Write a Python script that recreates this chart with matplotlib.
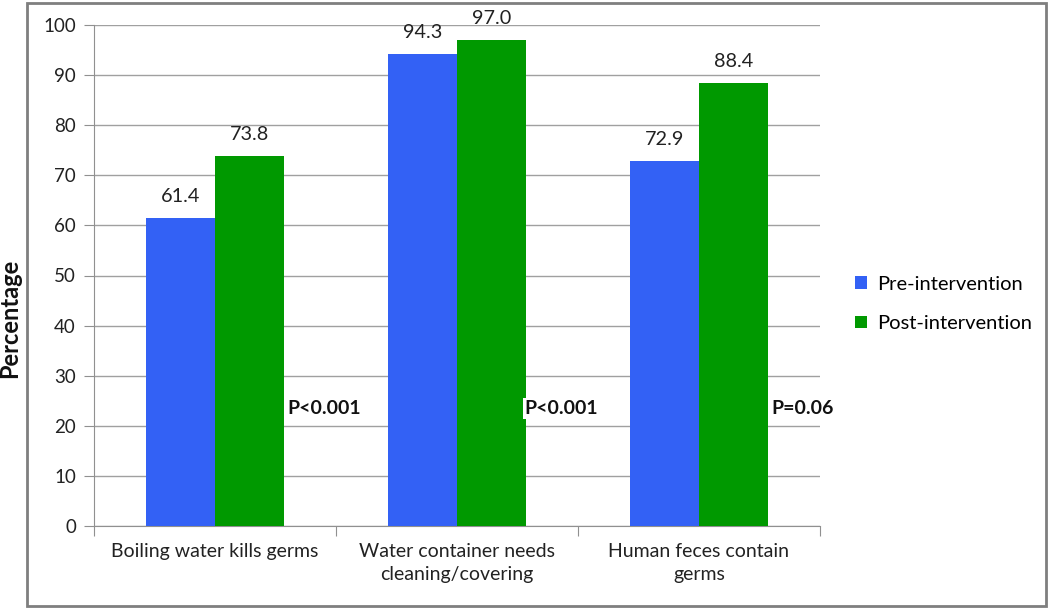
import matplotlib
matplotlib.use("Agg")
import matplotlib.pyplot as plt
from matplotlib.patches import Rectangle
import numpy as np

categories = ["Boiling water kills germs", "Water container needs\ncleaning/covering", "Human feces contain\ngerms"]
pre = [61.4, 94.3, 72.9]
post = [73.8, 97.0, 88.4]
p_labels = ["P<0.001", "P<0.001", "P=0.06"]
p_y = [23.4, 23.4, 23.4]
series_names = ["Pre-intervention", "Post-intervention"]

plt.rcParams['font.family'] = ['Lato', 'DejaVu Sans']

fig = plt.figure(figsize=(10.5, 6.09), dpi=100)
ax = fig.add_axes([94/1050, 1-526/609, (820-94)/1050, (526-25)/609])

x = np.arange(len(categories))
w = 0.285
b1 = ax.bar(x - w/2, pre, w, color="#3361F5", label=series_names[0], zorder=3)
b2 = ax.bar(x + w/2, post, w, color="#009900", label=series_names[1], zorder=3)

for bars, vals in ((b1, pre), (b2, post)):
    for r, v in zip(bars, vals):
        ax.annotate(f"{v:.1f}", (r.get_x() + r.get_width()/2, v), xytext=(0, 15.5),
                    textcoords="offset points", ha="center", va="center", fontsize=14.3,
                    color="#222222", annotation_clip=False)

p_dx = [0.30, 0.28, 0.30]
for i, lab in enumerate(p_labels):
    ax.text(x[i] + p_dx[i], p_y[i], lab, ha="left", va="center", fontsize=14, fontweight="bold",
            color="#111111", zorder=5,
            bbox=dict(facecolor="white", edgecolor="none", pad=1.5))

ax.set_xlim(-0.5, 2.5)
ax.set_ylim(0, 100)
ax.set_yticks(range(0, 101, 10))
ax.set_xticks([-0.5, 0.5, 1.5, 2.5], minor=False)
ax.set_xticklabels([])
ax.set_xticks(x, minor=True)
ax.set_xticklabels(categories, minor=True, fontsize=14, color="#222222", linespacing=1.45)
ax.tick_params(axis="x", which="minor", length=0, pad=12)
ax.tick_params(axis="x", which="major", length=7, color="#909090", direction="out")
ax.tick_params(axis="y", length=7, color="#909090", labelsize=13.5, labelcolor="#222222", pad=6)
ax.yaxis.grid(True, color="#a0a0a0", lw=1, zorder=0)
for s in ["top", "right"]:
    ax.spines[s].set_visible(False)
ax.spines["left"].set_color("#909090")
ax.spines["bottom"].set_color("#909090")

fig.text(10/1050, 1-318/609, "Percentage", rotation=90, ha="center", va="center",
         fontsize=17, fontweight="bold", color="#111111")

leg = fig.legend(handles=[b1, b2], labels=series_names, loc="center left",
                 bbox_to_anchor=(837/1050, 1-304/609), frameon=False, fontsize=14.5,
                 handlelength=0.6, handleheight=0.6, labelspacing=1.1, handletextpad=0.5)

fig.patches.append(Rectangle((27/1050, 3/609), (1046-27)/1050, (606-3)/609, transform=fig.transFigure,
                             fill=False, edgecolor="#7f7f7f", lw=2))

fig.savefig("out.png", dpi=100)
